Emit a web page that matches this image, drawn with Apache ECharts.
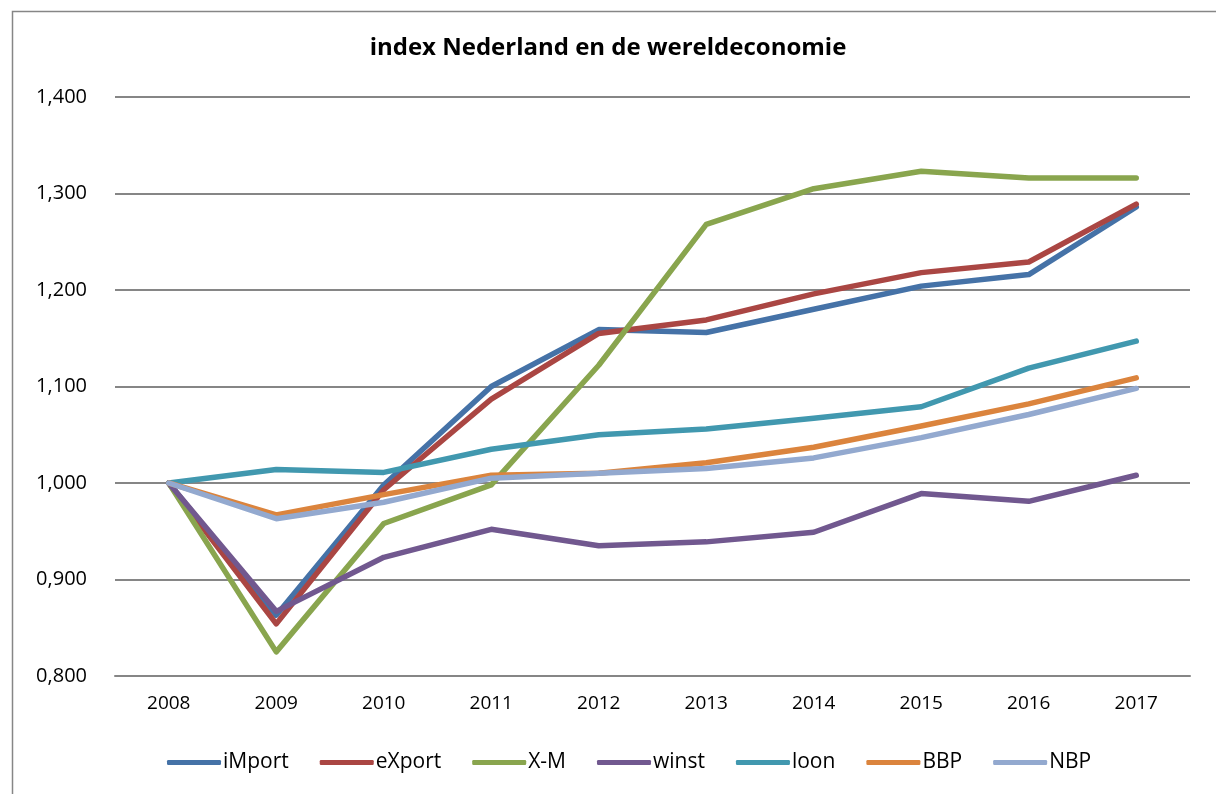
<!DOCTYPE html>
<html>
<head>
<meta charset="utf-8">
<script src="https://cdn.jsdelivr.net/npm/echarts@6/dist/echarts.min.js"></script>
<style>html,body{margin:0;padding:0;background:#fff}#c{width:1216px;height:794px}</style>
</head>
<body>
<div id="c"></div>
<script>
var years = ['2008','2009','2010','2011','2012','2013','2014','2015','2016','2017'];
var iMport = [1.000, 0.863, 0.998, 1.100, 1.159, 1.156, 1.180, 1.204, 1.216, 1.286];
var eXport = [1.000, 0.854, 0.993, 1.087, 1.155, 1.169, 1.196, 1.218, 1.229, 1.289];
var XM     = [1.000, 0.825, 0.958, 0.998, 1.122, 1.268, 1.305, 1.323, 1.316, 1.316];
var winst  = [1.000, 0.867, 0.923, 0.952, 0.935, 0.939, 0.949, 0.989, 0.981, 1.008];
var loon   = [1.000, 1.014, 1.011, 1.035, 1.050, 1.056, 1.067, 1.079, 1.119, 1.147];
var BBP    = [1.000, 0.967, 0.988, 1.008, 1.010, 1.021, 1.037, 1.059, 1.082, 1.109];
var NBP    = [1.000, 0.963, 0.980, 1.005, 1.010, 1.015, 1.026, 1.047, 1.071, 1.098];
var seriesNames = ['iMport','eXport','X-M','winst','loon','BBP','NBP'];
var seriesData = [iMport, eXport, XM, winst, loon, BBP, NBP];
var colors = ['#4572A7','#AA4643','#89A54E','#71588F','#4198AF','#DB843D','#93A9CF'];
var FONT = 'Open Sans';

var chart = echarts.init(document.getElementById('c'), null, {renderer:'canvas'});
chart.setOption({
  animation: false,
  backgroundColor: '#fff',
  color: colors,
  graphic: [{
    type: 'rect', left: 10, top: 9, silent: true,
    shape: {width: 1300, height: 900},
    style: {fill: 'none', stroke: '#868686', lineWidth: 1.5}
  }],
  title: {
    text: 'index Nederland en de wereldeconomie',
    left: 'center', top: 31,
    textStyle: {fontFamily: FONT, fontWeight: 'bold', fontSize: 24, color: '#000'}
  },
  legend: {
    bottom: 16, left: 162,
    icon: 'roundRect', itemWidth: 54, itemHeight: 5, itemGap: 31,
    textStyle: {fontFamily: FONT, fontSize: 21, color: '#000', padding: [0,0,0,-3]},
    data: seriesNames
  },
  grid: {left: 115, right: 26, top: 97, bottom: 118, containLabel: false},
  xAxis: {
    type: 'category', data: years, boundaryGap: true,
    axisLine: {show: true, lineStyle: {color: '#868686', width: 2}},
    axisTick: {show: false},
    axisLabel: {fontFamily: FONT, fontSize: 19, color: '#000', margin: 18}
  },
  yAxis: {
    type: 'value', min: 0.8, max: 1.4, interval: 0.1,
    axisLine: {show: false}, axisTick: {show: false},
    splitLine: {lineStyle: {color: '#868686', width: 2}},
    axisLabel: {fontFamily: FONT, fontSize: 20, color: '#000', margin: 28,
      formatter: function(v){ return v.toFixed(3).replace('.', ','); }}
  },
  series: seriesNames.map(function(n, i){
    return {
      name: n, type: 'line', data: seriesData[i],
      showSymbol: false, symbol: 'none',
      lineStyle: {width: 5.5, color: colors[i], cap: 'round', join: 'round'},
      itemStyle: {color: colors[i]}
    };
  })
});
</script>
</body>
</html>
